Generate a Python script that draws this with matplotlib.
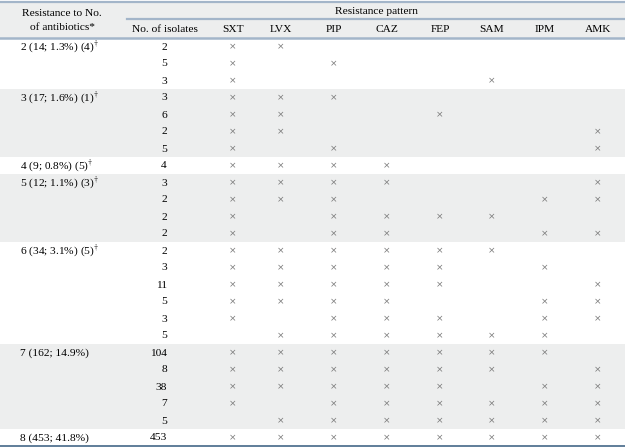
import matplotlib
matplotlib.use("Agg")
import matplotlib.pyplot as plt
from matplotlib.patches import Rectangle

plt.rcParams['font.family'] = ['Liberation Serif', 'DejaVu Serif']
plt.rcParams['mathtext.fontset'] = 'stix'

# ---- data ----
antibiotics = ["SXT", "LVX", "PIP", "CAZ", "FEP", "SAM", "IPM", "AMK"]
group_labels = ["2 (14; 1.3%) (4)", "3 (17; 1.6%) (1)", "4 (9; 0.8%) (5)",
                "5 (12; 1.1%) (3)", "6 (34; 3.1%) (5)", "7 (162; 14.9%)",
                "8 (453; 41.8%)"]
group_dagger = [True, True, True, True, True, False, False]
group_sizes = [3, 4, 1, 4, 6, 5, 1]
isolates = [2, 5, 3,
            3, 6, 2, 5,
            4,
            3, 2, 2, 2,
            2, 3, 11, 5, 3, 5,
            104, 8, 38, 7, 5,
            453]
patterns = ["11000000", "10100000", "10000100",
            "11100000", "11001000", "11000001", "10100001",
            "11110000",
            "11110001", "11100011", "10111100", "10110011",
            "11111100", "11111010", "11111001", "11110011", "10111011", "01111110",
            "11111110", "11111101", "11111011", "10111111", "01111111",
            "11111111"]

# ---- layout ----
W, H = 625, 448
fig = plt.figure(figsize=(W / 100, H / 100), dpi=100)
ax = fig.add_axes([0, 0, 1, 1])
ax.set_xlim(0, W)
ax.set_ylim(H, 0)
ax.axis('off')

shade = '#edeeee'
line_c = '#a3b5c9'
dark_c = '#5f7d99'
fs = 8.2
xcol = [233, 281, 334, 387, 440, 492, 545, 598]
hdr_bot = 38
row_h = 17.0

# header background
ax.add_patch(Rectangle((0, 2), W, hdr_bot - 2, color=shade, lw=0))
ax.plot([0, W], [2, 2], color=line_c, lw=1.6)
ax.plot([127, W], [19.5, 19.5], color=line_c, lw=1.6)
ax.plot([0, W], [hdr_bot, hdr_bot], color=line_c, lw=1.8)

ax.text(62, 14, "Resistance to No.", ha='center', va='center', fontsize=fs)
ax.text(62, 27.5, "of antibiotics*", ha='center', va='center', fontsize=fs)
ax.text(376, 11, "Resistance pattern", ha='center', va='center', fontsize=fs)
ax.text(165, 29.5, "No. of isolates", ha='center', va='center', fontsize=fs)
for x, a in zip(xcol, antibiotics):
    ax.text(x, 29.5, a, ha='center', va='center', fontsize=fs)

# body
r = 0
for g, (lab, dag, n) in enumerate(zip(group_labels, group_dagger, group_sizes)):
    top = hdr_bot + 0.5 + r * row_h
    if g % 2 == 1:
        ax.add_patch(Rectangle((0, top), W, n * row_h, color=shade, lw=0))
    txt = lab + (r"$^{\dagger}$" if dag else "")
    ax.text(20, top + row_h / 2, txt, ha='left', va='center', fontsize=fs)
    for k in range(n):
        yc = top + (k + 0.5) * row_h
        ax.text(167, yc, str(isolates[r + k]), ha='right', va='center', fontsize=fs)
        for x, c in zip(xcol, patterns[r + k]):
            if c == '1':
                ax.text(x, yc, "×", ha='center', va='center', fontsize=6.5,
                        color='#7a7a7a', family='DejaVu Sans')
    r += n

bottom = hdr_bot + 0.5 + r * row_h
ax.plot([0, W], [bottom, bottom], color=dark_c, lw=1.4)

fig.savefig("out.png", dpi=100)
